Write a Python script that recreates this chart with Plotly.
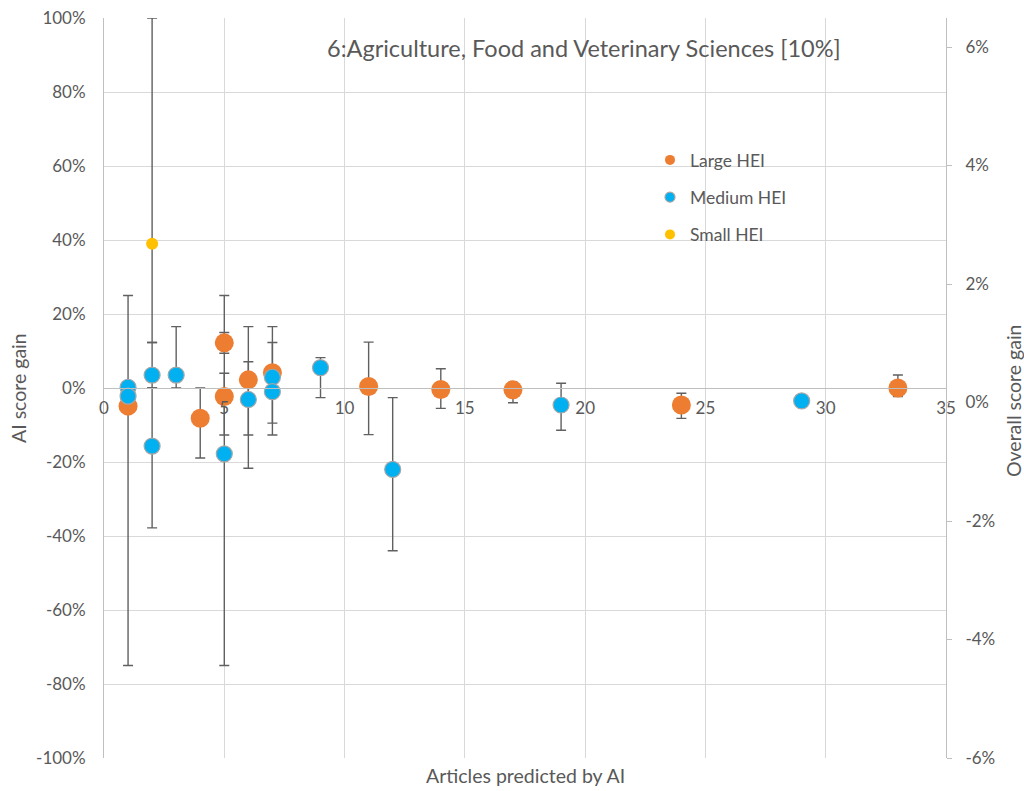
import plotly.graph_objects as go

# ---- data (AI score gain in %) ----
large_x = [1, 4, 5, 5, 6, 7, 11, 14, 17, 24, 33]
large_y = [-4.9, -8.2, 12.2, -2.3, 2.2, 4.1, 0.4, -0.4, -0.5, -4.6, 0.0]
large_hi = [25, 0, 15, 4, 7.1, 12.3, 12.4, 5.2, 1.5, -1.4, 3.5]
large_lo = [-75, -18.9, 9.4, -12.7, -12.7, -9.5, -12.6, -5.5, -4.0, -8.2, -2.3]

medium_x = [1, 1, 2, 2, 3, 5, 6, 7, 7, 9, 12, 19, 29]
medium_y = [0.2, -2.2, 3.5, -15.7, 3.5, -17.8, -3.1, 2.9, -1.0, 5.5, -22.0, -4.6, -3.5]
medium_hi = [None, None, 12.3, 0, 16.6, 25, 16.6, 16.6, None, 8.2, -2.6, 1.3, None]
medium_lo = [None, None, 0, -37.8, 0, -75, -21.7, -12.7, None, -2.6, -44.0, -11.4, None]

small_x = [2]
small_y = [39]
small_hi = [100]
small_lo = [12.3]

series_names = ["Large HEI", "Medium HEI", "Small HEI"]
x_ticks = [0, 5, 10, 15, 20, 25, 30, 35]
y_ticks = [-100, -80, -60, -40, -20, 0, 20, 40, 60, 80, 100]
y_labels = ["-100%", "-80%", "-60%", "-40%", "-20%", "0%", "20%", "40%", "60%", "80%", "100%"]
y2_ticks = [-6, -4, -2, 0, 2, 4, 6]
y2_labels = ["-6%", "-4%", "-2%", "0%", "2%", "4%", "6%"]

TXT = "#595959"
FONT = "Lato"
W, H = 1024, 791
L, R, T, B = 104, 78, 18, 33
PW, PH = W - L - R, H - T - B


def px_x(p):
    return (p - L) / PW


def px_y(p):
    return (H - B - p) / PH


def plus(y, hi):
    return [None if h is None else h - v for v, h in zip(y, hi)]


def minus(y, lo):
    return [None if l is None else v - l for v, l in zip(y, lo)]


fig = go.Figure()

specs = [
    (large_x, large_y, large_hi, large_lo, "#ED7D31", 19, dict(width=0)),
    (medium_x, medium_y, medium_hi, medium_lo, "#00B0F0", 16, dict(width=1.2, color="#A6A6A6")),
    (small_x, small_y, small_hi, small_lo, "#FFC000", 12, dict(width=0)),
]

# error bars first (behind all markers)
for (xs, ys, hi, lo, col, sz, ln) in specs:
    fig.add_trace(go.Scatter(
        x=xs, y=ys, mode="markers", showlegend=False, hoverinfo="skip",
        marker=dict(size=sz, color="rgba(0,0,0,0)"),
        error_y=dict(type="data", symmetric=False, array=plus(ys, hi),
                     arrayminus=minus(ys, lo), color="#606060",
                     thickness=1.4, width=5),
    ))

# markers
for name, (xs, ys, hi, lo, col, sz, ln) in zip(series_names, specs):
    fig.add_trace(go.Scatter(
        x=xs, y=ys, mode="markers", name=name, showlegend=False,
        marker=dict(size=sz, color=col, line=ln),
    ))

# legend entries
for i, (name, (xs, ys, hi, lo, col, sz, ln)) in enumerate(zip(series_names, specs)):
    fig.add_trace(go.Scatter(
        x=[None], y=[None], mode="markers", name=name, legendgroup=str(i),
        marker=dict(size=10, color=col, line=ln),
    ))

# invisible trace to activate the secondary (overall score) axis
fig.add_trace(go.Scatter(x=[0], y=[0], yaxis="y2", mode="markers",
                         marker=dict(size=1, color="rgba(0,0,0,0)"),
                         showlegend=False, hoverinfo="skip"))

tf = dict(size=17, color=TXT)
fig.update_layout(
    width=W, height=H,
    margin=dict(l=L, r=R, t=T, b=B, autoexpand=False),
    paper_bgcolor="white", plot_bgcolor="white",
    font=dict(family=FONT, color=TXT, size=17),
    showlegend=True,
    legend=dict(x=px_x(650), y=px_y(142), xanchor="left", yanchor="top",
                bgcolor="rgba(0,0,0,0)", tracegroupgap=11.5,
                font=dict(size=17.5, color=TXT), itemwidth=30),
    xaxis=dict(range=[0, 35], tickvals=x_ticks, showgrid=True,
               gridcolor="#D9D9D9", gridwidth=1, zeroline=False,
               showline=True, linecolor="#BFBFBF", linewidth=1,
               anchor="free", position=0.5, ticks="", automargin=False,
               ticklabelstandoff=5, tickfont=tf, ticklabeloverflow="allow"),
    yaxis=dict(range=[-100, 100], tickvals=y_ticks, ticktext=y_labels,
               showgrid=True, gridcolor="#D9D9D9", gridwidth=1,
               zeroline=False, showline=True, linecolor="#BFBFBF",
               ticks="", ticklabelstandoff=14, automargin=False,
               tickfont=tf, ticklabeloverflow="allow"),
    yaxis2=dict(range=[-6.0, 6.49], tickvals=y2_ticks, ticktext=y2_labels,
                overlaying="y", side="right", showgrid=False, zeroline=False,
                showline=True, linecolor="#BFBFBF", ticks="outside",
                ticklen=5, tickcolor="#BFBFBF", ticklabelstandoff=10,
                automargin=False, tickfont=tf, ticklabeloverflow="allow"),
    shapes=[dict(type="rect", xref="paper", yref="paper", layer="between",
                 x0=px_x(656), x1=px_x(800), y0=px_y(289), y1=px_y(105),
                 fillcolor="white", line=dict(width=0))],
    annotations=[
        dict(text="6:Agriculture, Food and Veterinary Sciences [10%]",
             x=px_x(584), y=px_y(48), xref="paper", yref="paper",
             xanchor="center", yanchor="middle", showarrow=False,
             font=dict(size=23.5, color=TXT)),
        dict(text="Articles predicted by AI", x=px_x(525), y=px_y(775),
             xref="paper", yref="paper", xanchor="center", yanchor="middle",
             showarrow=False, font=dict(size=19.5, color=TXT)),
        dict(text="AI score gain", x=px_x(18), y=px_y(388), textangle=-90,
             xref="paper", yref="paper", xanchor="center", yanchor="middle",
             showarrow=False, font=dict(size=19.5, color=TXT)),
        dict(text="Overall score gain", x=px_x(1013), y=px_y(400), textangle=-90,
             xref="paper", yref="paper", xanchor="center", yanchor="middle",
             showarrow=False, font=dict(size=19.5, color=TXT)),
    ],
)

fig.write_html("out.html", config={"displayModeBar": False},
               post_script="document.body.style.margin='0px'; document.body.style.overflow='hidden';")
